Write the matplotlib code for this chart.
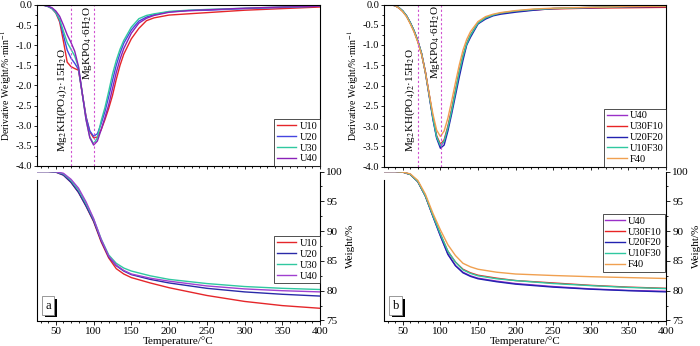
import matplotlib
matplotlib.use('Agg')
import matplotlib.pyplot as plt
from matplotlib.ticker import MultipleLocator
import matplotlib.patheffects as pe

plt.rcParams['font.family'] = ['Liberation Serif', 'DejaVu Serif']
plt.rcParams['mathtext.fontset'] = 'stix'
plt.rcParams['axes.linewidth'] = 0.8

# ---------------- data ----------------
T_dtg = [25, 30, 35, 40, 45, 50, 55, 60, 65, 70, 75, 80, 85, 90, 95, 100, 105, 110, 115, 120,
         125, 130, 135, 140, 150, 160, 170, 180, 200, 225, 250, 300, 350, 400]

dtg_U10 = [0, 0, -0.01, -0.04, -0.09, -0.2, -0.42, -0.9, -1.42, -1.53, -1.58, -1.62, -2.2, -2.78, -3.15, -3.3,
           -3.28, -3.1, -2.85, -2.57, -2.25, -1.85, -1.5, -1.22, -0.84, -0.58, -0.39, -0.32, -0.25, -0.22, -0.19, -0.13, -0.09, -0.05]
dtg_U20 = [0, 0, -0.01, -0.04, -0.09, -0.19, -0.38, -0.75, -1.12, -1.32, -1.45, -1.6, -2.2, -2.78, -3.13, -3.26,
           -3.2, -2.95, -2.65, -2.28, -1.88, -1.5, -1.2, -0.95, -0.62, -0.4, -0.3, -0.24, -0.17, -0.14, -0.13, -0.09, -0.06, -0.03]
dtg_U30 = [0, 0, -0.01, -0.04, -0.09, -0.19, -0.36, -0.65, -0.93, -1.1, -1.27, -1.55, -2.2, -2.85, -3.28, -3.45,
           -3.3, -2.88, -2.55, -2.15, -1.72, -1.38, -1.1, -0.88, -0.55, -0.34, -0.26, -0.22, -0.16, -0.13, -0.11, -0.08, -0.05, -0.03]
dtg_U40 = [0, 0, -0.01, -0.03, -0.07, -0.15, -0.28, -0.5, -0.74, -0.93, -1.15, -1.53, -2.2, -2.85, -3.3, -3.48,
           -3.38, -3.1, -2.8, -2.48, -2.08, -1.68, -1.35, -1.08, -0.7, -0.45, -0.33, -0.26, -0.18, -0.14, -0.12, -0.08, -0.05, -0.03]

dtg_b_U40 = [0, 0, -0.01, -0.03, -0.08, -0.16, -0.28, -0.45, -0.65, -0.9, -1.21, -1.66, -2.22, -2.8, -3.28, -3.5,
             -3.38, -3.05, -2.63, -2.16, -1.7, -1.3, -0.98, -0.77, -0.47, -0.33, -0.26, -0.22, -0.17, -0.13, -0.1, -0.07, -0.05, -0.04]
dtg_b_U30F10 = [0, 0, -0.01, -0.03, -0.09, -0.17, -0.29, -0.46, -0.66, -0.91, -1.22, -1.66, -2.21, -2.77, -3.24, -3.45,
                -3.34, -3.0, -2.58, -2.12, -1.66, -1.27, -0.96, -0.75, -0.46, -0.33, -0.26, -0.22, -0.17, -0.13, -0.11, -0.09, -0.08, -0.07]
dtg_b_U20F20 = [0, 0, -0.01, -0.03, -0.08, -0.16, -0.28, -0.45, -0.65, -0.9, -1.22, -1.68, -2.25, -2.83, -3.3, -3.55,
                -3.47, -3.12, -2.7, -2.25, -1.8, -1.38, -1.0, -0.81, -0.48, -0.36, -0.28, -0.24, -0.19, -0.14, -0.1, -0.08, -0.06, -0.05]
dtg_b_U10F30 = [0, 0, -0.01, -0.03, -0.08, -0.16, -0.28, -0.45, -0.65, -0.9, -1.21, -1.67, -2.23, -2.8, -3.27, -3.48,
                -3.37, -3.04, -2.62, -2.15, -1.68, -1.28, -0.97, -0.76, -0.46, -0.33, -0.26, -0.21, -0.16, -0.12, -0.1, -0.07, -0.05, -0.04]
dtg_b_F40 = [0, 0, -0.01, -0.03, -0.09, -0.18, -0.3, -0.48, -0.68, -0.93, -1.24, -1.67, -2.2, -2.7, -3.1, -3.26,
             -3.12, -2.8, -2.38, -1.93, -1.5, -1.13, -0.86, -0.67, -0.42, -0.3, -0.24, -0.2, -0.15, -0.11, -0.09, -0.07, -0.05, -0.04]

T_tg = [25, 30, 40, 50, 60, 70, 80, 90, 100, 110, 120, 130, 140, 150, 175, 200, 250, 300, 350, 400]

tg_U10 = [100, 100, 100, 99.9, 99.4, 98.2, 96.5, 94.2, 91.6, 88.2, 85.5, 83.7, 82.8, 82.2, 81.3, 80.5, 79.2, 78.2, 77.5, 77.05]
tg_U20 = [100, 100, 100, 99.9, 99.4, 98.2, 96.5, 94.2, 91.7, 88.4, 85.7, 84.2, 83.3, 82.7, 81.9, 81.3, 80.4, 79.8, 79.4, 79.1]
tg_U30 = [100, 100, 100, 99.95, 99.6, 98.5, 96.9, 94.6, 92.0, 88.7, 86.0, 84.6, 83.8, 83.3, 82.5, 81.9, 81.2, 80.7, 80.4, 80.2]
tg_U40 = [100, 100, 100, 99.95, 99.7, 98.7, 97.2, 94.9, 92.1, 88.6, 85.8, 84.3, 83.4, 82.8, 82.1, 81.6, 80.8, 80.3, 80.0, 79.8]

tg_b_U40 = [100, 100, 100, 99.9, 99.5, 98.3, 95.9, 92.5, 89.2, 86.1, 84.2, 83.1, 82.5, 82.1, 81.6, 81.2, 80.7, 80.3, 80.05, 79.9]
tg_b_U30F10 = [100, 100, 100, 99.9, 99.5, 98.3, 95.9, 92.6, 89.5, 86.6, 84.8, 83.6, 83.0, 82.6, 82.1, 81.7, 81.3, 80.9, 80.6, 80.4]
tg_b_U20F20 = [100, 100, 100, 99.9, 99.5, 98.3, 95.9, 92.5, 89.2, 86.1, 84.2, 83.0, 82.4, 82.0, 81.5, 81.1, 80.6, 80.25, 80.0, 79.8]
tg_b_U10F30 = [100, 100, 100, 99.9, 99.5, 98.3, 95.9, 92.6, 89.5, 86.6, 84.8, 83.5, 82.9, 82.5, 82.0, 81.7, 81.2, 80.85, 80.55, 80.35]
tg_b_F40 = [100, 100, 100, 99.9, 99.6, 98.5, 96.2, 93.0, 90.2, 87.7, 85.9, 84.6, 84.0, 83.6, 83.1, 82.8, 82.55, 82.35, 82.2, 82.05]

labels_a = ['U10', 'U20', 'U30', 'U40']
labels_b = ['U40', 'U30F10', 'U20F20', 'U10F30', 'F40']
colors_a = ['#e5262a', '#4545e0', '#30c8a0', '#8a22b8']
colors_a_tg = ['#e5262a', '#2a2aa8', '#30c8a0', '#a040d0']
colors_b = ['#9a30c8', '#e82424', '#2222b0', '#30c8a0', '#f0a050']

peak_T = [70, 101]
peak_labels = [r'Mg$_2$KH(PO$_4$)$_2$·15H$_2$O', r'MgKPO$_4$·6H$_2$O']

# ---------------- layout ----------------
W, H = 700, 346
fig = plt.figure(figsize=(7, 3.46), dpi=100)


def rect(x0, x1, y0, y1):
    return [x0 / W, 1 - y1 / H, (x1 - x0) / W, (y1 - y0) / H]


FS = 8
TFS = 7.5
LFS = 7.5
vcol = '#d050d0'


def style_top(ax):
    ax.set_xlim(25, 400)
    ax.set_ylim(-4.0, 0.0)
    ax.xaxis.set_major_locator(MultipleLocator(50))
    ax.xaxis.set_minor_locator(MultipleLocator(10))
    ax.yaxis.set_major_locator(MultipleLocator(0.5))
    ax.yaxis.set_minor_locator(MultipleLocator(0.25))
    ax.tick_params(axis='both', which='both', direction='out', width=0.6, labelsize=TFS, pad=1.0)
    ax.tick_params(which='major', length=2.5)
    ax.tick_params(which='minor', length=1.3)
    ax.tick_params(axis='x', labelbottom=False)
    ax.set_yticks([0, -0.5, -1, -1.5, -2, -2.5, -3, -3.5, -4])
    ax.set_yticklabels(['0.0', '-0.5', '-1.0', '-1.5', '-2.0', '-2.5', '-3.0', '-3.5', '-4.0'])
    ax.set_ylabel('Derivative Weight/%·min$^{-1}$', fontsize=7)
    ax.yaxis.set_label_coords(-0.081, 0.5)


def style_bottom(ax):
    ax.set_xlim(25, 400)
    ax.set_ylim(75, 100)
    ax.spines['top'].set_visible(False)
    ax.spines['left'].set_bounds(75, 98.6)
    ax.yaxis.tick_right()
    ax.yaxis.set_label_position('right')
    ax.xaxis.set_major_locator(MultipleLocator(50))
    ax.xaxis.set_minor_locator(MultipleLocator(10))
    ax.yaxis.set_major_locator(MultipleLocator(5))
    ax.yaxis.set_minor_locator(MultipleLocator(2.5))
    ax.tick_params(axis='both', which='both', direction='out', width=0.6, labelsize=FS, pad=1.5)
    ax.tick_params(which='major', length=3)
    ax.tick_params(which='minor', length=1.5)
    ax.set_xticks([50, 100, 150, 200, 250, 300, 350, 400])
    ax.set_xlabel('Temperature/°C', fontsize=FS, labelpad=0)
    ax.set_ylabel('Weight/%', fontsize=FS, labelpad=2)


def panel_label(ax, s):
    t = ax.text(0.03, 0.06, s, transform=ax.transAxes, fontsize=FS + 1, color='black',
                ha='left', va='bottom',
                bbox=dict(boxstyle='square,pad=0.25', fc='white', ec='#888888', lw=0.6))
    t.get_bbox_patch().set_path_effects([
        pe.SimplePatchShadow(offset=(2, -2), shadow_rgbFace='black', alpha=1.0), pe.Normal()])


def leg(ax, **kw):
    l = ax.legend(fontsize=LFS, frameon=True, fancybox=False, edgecolor='black', handlelength=1.9,
                  handletextpad=0.3, labelspacing=0.15, borderpad=0.25, borderaxespad=0, **kw)
    l.get_frame().set_linewidth(0.6)
    return l


# ---- panel a ----
axa1 = fig.add_axes(rect(37, 320, 5, 166))
for y, c, lab in zip([dtg_U10, dtg_U20, dtg_U30, dtg_U40], colors_a, labels_a):
    axa1.plot(T_dtg, y, color=c, lw=1.0, label=lab)
for t in peak_T:
    axa1.axvline(t, color=vcol, lw=0.8, ls=(0, (2, 2)))
axa1.text(58.3, -2.36, peak_labels[0], rotation=90, ha='center', va='center', fontsize=FS)
axa1.text(92.5, -0.02, peak_labels[1], rotation=90, ha='center', va='top', fontsize=FS)
style_top(axa1)
leg(axa1, loc='lower right')

axa2 = fig.add_axes(rect(37, 320, 171.5, 320.5))
for y, c, lab in zip([tg_U10, tg_U20, tg_U30, tg_U40], colors_a_tg, labels_a):
    axa2.plot(T_tg, y, color=c, lw=1.0, label=lab)
style_bottom(axa2)
leg(axa2, loc='lower right', bbox_to_anchor=(1.0, 0.25))
panel_label(axa2, 'a')

# ---- panel b ----
axb1 = fig.add_axes(rect(384, 666, 4.5, 166.5))
for y, c, lab in zip([dtg_b_U40, dtg_b_U30F10, dtg_b_U20F20, dtg_b_U10F30, dtg_b_F40], colors_b, labels_b):
    axb1.plot(T_dtg, y, color=c, lw=1.0, label=lab)
for t in peak_T:
    axb1.axvline(t, color=vcol, lw=0.8, ls=(0, (2, 2)))
axb1.text(59.6, -2.36, peak_labels[0], rotation=90, ha='center', va='center', fontsize=FS)
axb1.text(92.9, -0.02, peak_labels[1], rotation=90, ha='center', va='top', fontsize=FS)
style_top(axb1)
leg(axb1, loc='lower right')

axb2 = fig.add_axes(rect(384, 666, 171.5, 320.5))
for y, c, lab in zip([tg_b_U40, tg_b_U30F10, tg_b_U20F20, tg_b_U10F30, tg_b_F40], colors_b, labels_b):
    axb2.plot(T_tg, y, color=c, lw=1.0, label=lab)
style_bottom(axb2)
leg(axb2, loc='lower right', bbox_to_anchor=(0.995, 0.327))
panel_label(axb2, 'b')

fig.savefig('out.png', dpi=100)
